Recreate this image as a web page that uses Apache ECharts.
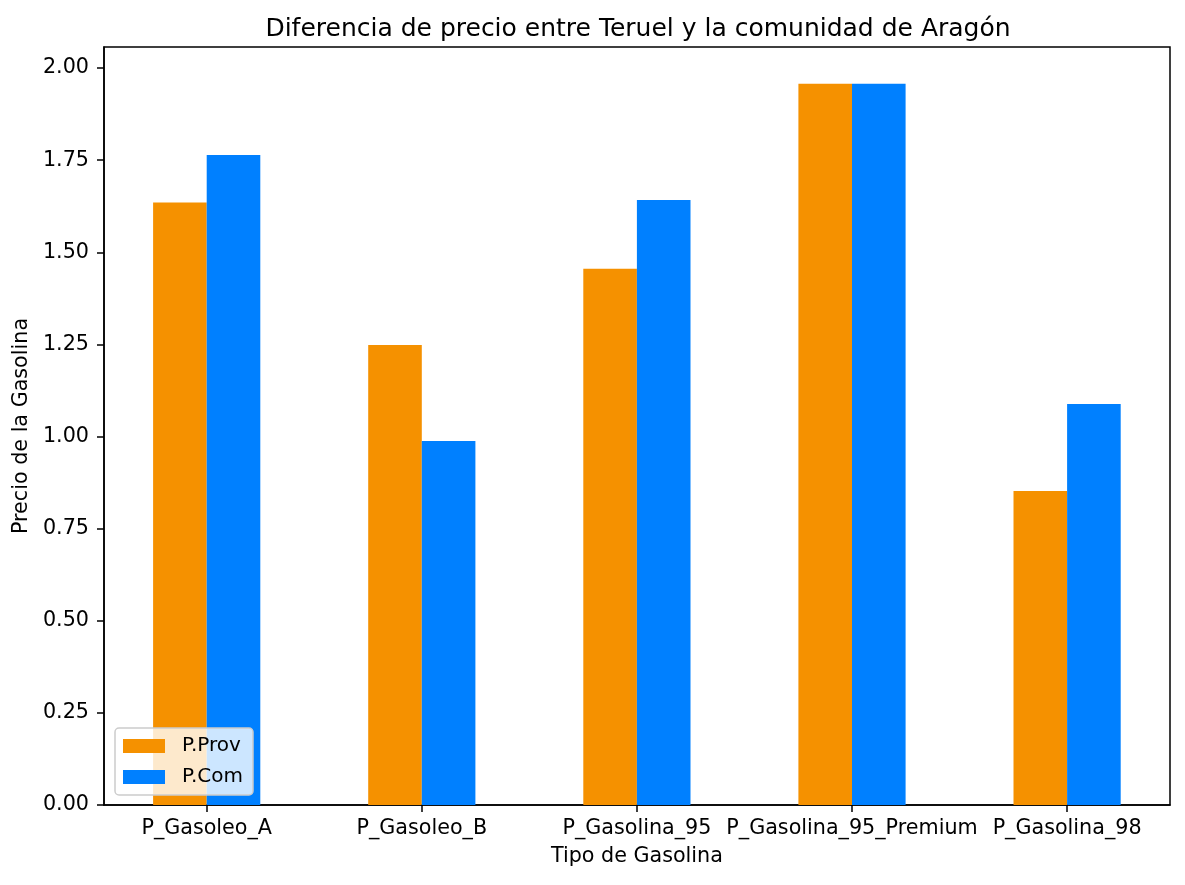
<!DOCTYPE html>
<html>
<head>
<meta charset="utf-8">
<script src="https://cdn.jsdelivr.net/npm/echarts@6/dist/echarts.min.js"></script>
<style>html,body{margin:0;padding:0;background:#fff;}#chart{width:1185px;height:885px;}</style>
</head>
<body>
<div id="chart"></div>
<script>
const categories = ['P_Gasoleo_A', 'P_Gasoleo_B', 'P_Gasolina_95', 'P_Gasolina_95_Premium', 'P_Gasolina_98'];
const provValues = [1.635, 1.248, 1.455, 1.957, 0.852];
const comValues = [1.764, 0.988, 1.642, 1.957, 1.088];
const yTicks = [0, 0.25, 0.5, 0.75, 1.0, 1.25, 1.5, 1.75, 2.0];

const FONT = 'DejaVu Sans';
const FS = 20.7;
const chart = echarts.init(document.getElementById('chart'), null, {renderer: 'canvas'});
chart.setOption({
  animation: false,
  backgroundColor: '#ffffff',
  title: {
    text: 'Diferencia de precio entre Teruel y la comunidad de Aragón',
    left: 633, top: 12, textAlign: 'center',
    textStyle: {fontFamily: FONT, fontSize: 25, fontWeight: 'normal', color: '#000'}
  },
  legend: {
    orient: 'vertical', left: 115, top: 728,
    padding: [8, 10, 8, 8],
    itemWidth: 42, itemHeight: 14, itemGap: 11,
    icon: 'rect',
    backgroundColor: 'rgba(255,255,255,0.8)',
    borderColor: '#cccccc', borderWidth: 1.5, borderRadius: 4,
    textStyle: {fontFamily: FONT, fontSize: 20, color: '#000', lineHeight: 20, padding: [0, 0, 0, 12]},
    data: ['P.Prov', 'P.Com']
  },
  grid: [
    {left: 104, right: 15, top: 47, bottom: 80,
     show: true, borderColor: '#000', borderWidth: 1.5, backgroundColor: 'transparent'},
    {left: 99.15, right: 10.35, top: 47, bottom: 80}
  ],
  xAxis: [
    {type: 'category', gridIndex: 0, data: categories, boundaryGap: true,
     axisLine: {lineStyle: {color: '#000', width: 1.5}},
     axisTick: {show: false}, axisLabel: {show: false}, splitLine: {show: false}},
    {type: 'category', gridIndex: 1, data: categories, boundaryGap: true,
     name: 'Tipo de Gasolina', nameLocation: 'middle', nameGap: 41,
     nameTextStyle: {fontFamily: FONT, fontSize: FS, color: '#000'},
     axisLine: {show: false},
     axisTick: {show: true, alignWithLabel: true, length: 7, lineStyle: {color: '#000', width: 1.5}},
     axisLabel: {fontFamily: FONT, fontSize: FS, color: '#000', margin: 13, interval: 0},
     splitLine: {show: false}}
  ],
  yAxis: [
    {type: 'value', gridIndex: 0, min: 0, max: 2.057,
     name: 'Precio de la Gasolina', nameLocation: 'middle', nameGap: 72,
     nameTextStyle: {fontFamily: FONT, fontSize: FS, color: '#000'},
     axisLine: {show: true, lineStyle: {color: '#000', width: 1.5}},
     axisTick: {show: true, length: 7, customValues: yTicks, lineStyle: {color: '#000', width: 1.5}},
     axisLabel: {fontFamily: FONT, fontSize: FS, color: '#000', margin: 15, customValues: yTicks,
       formatter: v => v.toFixed(2)},
     splitLine: {show: false}},
    {type: 'value', gridIndex: 1, min: 0, max: 2.057, show: false, splitLine: {show: false}}
  ],
  series: [
    {name: 'P.Prov', type: 'bar', xAxisIndex: 1, yAxisIndex: 1, data: provValues,
     barWidth: 53.6, barGap: '0%', itemStyle: {color: '#F59100'}},
    {name: 'P.Com', type: 'bar', xAxisIndex: 1, yAxisIndex: 1, data: comValues,
     barWidth: 53.6, barGap: '0%', itemStyle: {color: '#0080FF'}}
  ]
});
</script>
</body>
</html>
